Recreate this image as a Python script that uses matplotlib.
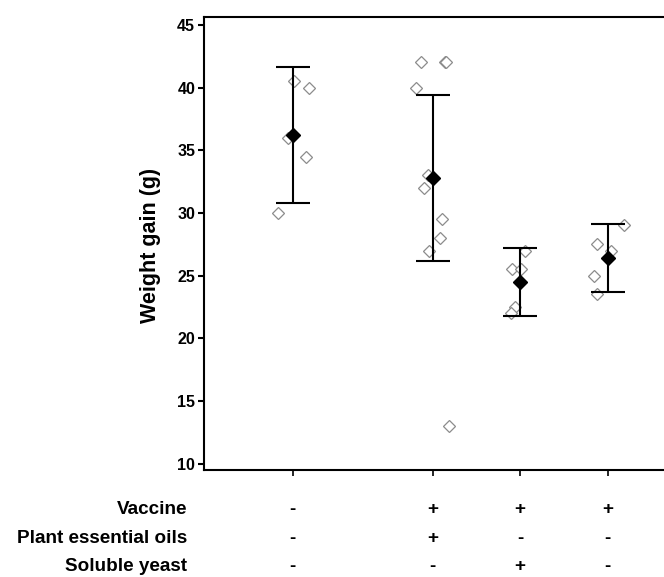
# -*- coding: utf-8 -*-
"""Weight gain per treatment group: individual birds, mean and error bar."""
import matplotlib
matplotlib.use("Agg")
import matplotlib.pyplot as plt
import matplotlib.transforms as mtransforms

plt.rcParams["font.family"] = ["Liberation Sans", "DejaVu Sans"]
plt.rcParams["font.weight"] = "bold"

# group positions on the x axis (first group is set apart)
GROUP_X = [1.0, 2.6, 3.6, 4.6]

# individual weight gains (g) and their horizontal jitter
POINTS = [
    [40.5, 40.0, 36.0, 34.5, 30.0],
    [42.0, 42.0, 42.0, 40.0, 33.0, 32.0, 29.5, 28.0, 27.0, 13.0],
    [27.0, 25.5, 25.5, 22.5, 22.0],
    [29.0, 27.5, 27.0, 25.0, 23.5],
]
JITTER = [
    [0.015, 0.19, -0.06, 0.15, -0.165],
    [-0.14, 0.14, 0.155, -0.19, -0.06, -0.10, 0.10, 0.085, -0.04, 0.19],
    [0.05, -0.09, 0.01, -0.065, -0.105],
    [0.19, -0.125, 0.035, -0.16, -0.125],
]

MEANS = [36.2, 32.8, 24.5, 26.4]
ERRORS = [5.4, 6.6, 2.7, 2.7]

ROW_LABELS = ["Vaccine", "Plant essential oils", "Soluble yeast"]
ROW_SIGNS = [
    ["-", "+", "+", "+"],
    ["-", "+", "-", "-"],
    ["-", "-", "+", "-"],
]

fig = plt.figure(figsize=(6.64, 5.77), dpi=100)
ax = fig.add_axes([0.3065, 0.1854, 0.6935, 0.7846])

for gx, pts, jit in zip(GROUP_X, POINTS, JITTER):
    ax.plot([gx + j for j in jit], pts, linestyle="none", marker="D",
            markersize=6.2, markerfacecolor="white", markeredgecolor="#8c8c8c",
            markeredgewidth=0.9, zorder=2)

ax.errorbar(GROUP_X, MEANS, yerr=ERRORS, fmt="D", color="black",
            markersize=6.8, elinewidth=1.5, capsize=12.2, capthick=1.5, zorder=3)

ax.set_xlim(-0.02, 5.243)
ax.set_ylim(9.5, 45.6)
ax.set_yticks(range(10, 46, 5))
ax.set_xticks(GROUP_X)
ax.set_xticklabels([])
ax.spines["right"].set_visible(False)
for side in ("left", "top", "bottom"):
    ax.spines[side].set_linewidth(1.5)
ax.tick_params(axis="y", direction="out", length=4, width=1.5, labelsize=11.5, pad=2)
ax.tick_params(axis="x", direction="out", length=4, width=1.2)
for lab in ax.get_yticklabels():
    lab.set_fontweight("bold")

ax.set_ylabel("Weight gain (g)", fontsize=15.5, fontweight="bold")
ax.yaxis.set_label_coords(-0.092, 0.497)

# +/- table under the axis, rows share a baseline
trans = mtransforms.blended_transform_factory(ax.transData, fig.transFigure)
row_base = [1 - 514 / 577, 1 - 542.7 / 577, 1 - 571 / 577]
for label, signs, y in zip(ROW_LABELS, ROW_SIGNS, row_base):
    fig.text(187 / 664, y, label, ha="right", va="baseline",
             fontsize=13.6, fontweight="bold")
    for gx, s in zip(GROUP_X, signs):
        ax.text(gx, y, s, transform=trans, ha="center", va="baseline",
                fontsize=13.6, fontweight="bold", clip_on=False)

fig.savefig("out.png", dpi=100, facecolor="white")
